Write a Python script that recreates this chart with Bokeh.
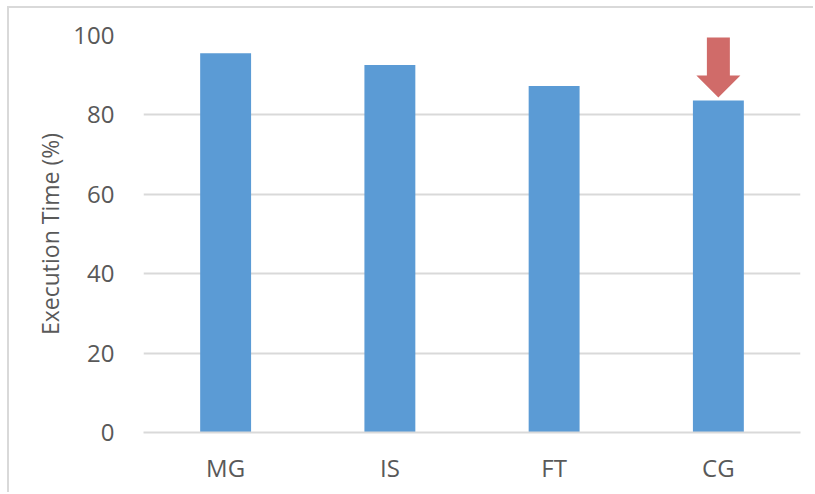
from bokeh.plotting import figure
from bokeh.models import Range1d, FixedTicker, ColumnDataSource
from bokeh.embed import file_html
from bokeh.resources import INLINE

categories = ["MG", "IS", "FT", "CG"]
values = [95.5, 92.6, 87.3, 83.6]
y_ticks = [0, 20, 40, 60, 80, 100]
y_label = "Execution Time (%)"
highlight = "CG"
arrow_top = 99.5
arrow_neck = 89.9
arrow_tip = 84.4

BAR_COLOR = "#5B9BD5"
ARROW_COLOR = "#D06B69"
GRID_COLOR = "#D9D9D9"
TEXT_COLOR = "#595959"
FONT = "Open Sans"

centers = [i + 0.5 for i in range(len(categories))]

p = figure(width=806, height=486, output_backend="svg", toolbar_location=None,
           x_range=Range1d(0, len(categories)), y_range=Range1d(0, 100),
           min_border_left=134, min_border_right=15, min_border_top=27,
           min_border_bottom=62)
p.margin = (6, 0, 0, 7)
p.styles = {"border-left": "2px solid #D9D9D9", "border-top": "2px solid #D9D9D9"}

src = ColumnDataSource(dict(x=centers, top=values))
p.vbar(x="x", top="top", bottom=0, width=0.31, source=src,
       fill_color=BAR_COLOR, line_color=None)

# arrow annotation above the highlighted bar
cx = centers[categories.index(highlight)]
sw, hw = 0.07, 0.134
ax = [cx - sw, cx + sw, cx + sw, cx + hw, cx, cx - hw, cx - sw]
ay = [arrow_top, arrow_top, arrow_neck, arrow_neck, arrow_tip, arrow_neck, arrow_neck]
p.patch(ax, ay, fill_color=ARROW_COLOR, line_color=None)

p.outline_line_color = None
p.background_fill_color = "white"
p.border_fill_color = "white"

p.xgrid.visible = False
p.ygrid.grid_line_color = GRID_COLOR
p.ygrid.grid_line_width = 2
p.yaxis.ticker = FixedTicker(ticks=y_ticks)
p.ygrid.ticker = FixedTicker(ticks=y_ticks)

p.xaxis.ticker = FixedTicker(ticks=centers)
p.xaxis.major_label_overrides = {c: lab for c, lab in zip(centers, categories)}
p.xaxis.axis_line_color = GRID_COLOR
p.xaxis.axis_line_width = 2
p.xaxis.major_tick_line_color = None
p.xaxis.minor_tick_line_color = None
p.xaxis.major_label_standoff = 12

p.yaxis.axis_line_color = None
p.yaxis.major_tick_line_color = None
p.yaxis.minor_tick_line_color = None
p.yaxis.major_label_standoff = 23
p.yaxis.axis_label = y_label
p.yaxis.axis_label_standoff = 4

for ax_ in (p.xaxis, p.yaxis):
    ax_.major_label_text_font = FONT
    ax_.major_label_text_font_size = "24px"
    ax_.major_label_text_color = TEXT_COLOR
    ax_.axis_label_text_font = FONT
    ax_.axis_label_text_font_size = "23px"
    ax_.axis_label_text_font_style = "normal"
    ax_.axis_label_text_color = TEXT_COLOR

open("out.html", "w").write(file_html(p, INLINE))
